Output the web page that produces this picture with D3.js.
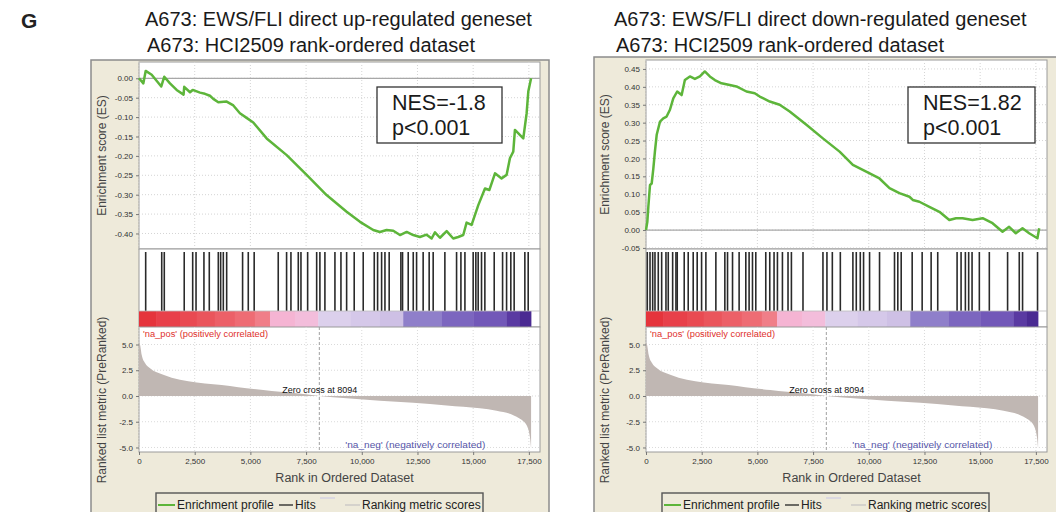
<!DOCTYPE html>
<html><head><meta charset="utf-8">
<script src="https://cdn.jsdelivr.net/npm/d3@7"></script>
<style>body{margin:0;background:#fff;} svg{display:block;font-family:'Liberation Sans',Arial,sans-serif;}</style>
</head><body><svg id="c" width="1056" height="512"></svg>
<script>
// ---------------- DATA ----------------
const panelLetter = "G";
const titlesUp = ["A673: EWS/FLI direct up-regulated geneset", "A673: HCI2509 rank-ordered dataset"];
const titlesDown = ["A673: EWS/FLI direct down-regulated geneset", "A673: HCI2509 rank-ordered dataset"];
const statsUp = ["NES=-1.8", "p<0.001"];
const statsDown = ["NES=1.82", "p<0.001"];
const xTicks = [0, 2500, 5000, 7500, 10000, 12500, 15000, 17500];
const esTicksUp = [0, -0.05, -0.10, -0.15, -0.20, -0.25, -0.30, -0.35, -0.40];
const esTicksDown = [-0.05, 0, 0.05, 0.10, 0.15, 0.20, 0.25, 0.30, 0.35, 0.40, 0.45];
const metricTicks = [5, 2.5, 0, -2.5, -5];
const zeroCross = 8094;

const upRank = [0,195,300,570,1000,1135,1390,1690,2000,2030,2290,2410,2740,2960,3185,3335,3560,3935,4235,4530,4830,5130,5730,6630,7525,8420,9320,9920,10515,10815,11115,11415,11715,12015,12310,12610,12910,13135,13285,13510,13810,14105,14330,14555,14705,14930,15230,15530,15725,15980,16275,16500,16650,16800,16875,17250,17400,17475,17600];
const upES = [0,-0.013,0.019,0.009,-0.021,0.004,-0.013,-0.030,-0.042,-0.022,-0.036,-0.030,-0.037,-0.040,-0.045,-0.053,-0.062,-0.060,-0.070,-0.090,-0.102,-0.114,-0.155,-0.198,-0.249,-0.301,-0.344,-0.370,-0.391,-0.396,-0.391,-0.393,-0.404,-0.396,-0.404,-0.409,-0.403,-0.413,-0.397,-0.411,-0.394,-0.413,-0.409,-0.404,-0.372,-0.378,-0.327,-0.284,-0.288,-0.245,-0.258,-0.249,-0.206,-0.189,-0.133,-0.155,-0.090,-0.034,0];
const upHits = [300,1020,1135,2030,2410,2560,2915,3155,3560,3665,3785,3935,4650,4905,5170,6250,6625,6820,7150,7270,7570,7975,8120,8345,8795,9065,9320,9660,10065,10560,10710,10890,11040,11230,11755,11830,12085,12310,12460,12755,13025,13205,13730,14255,14450,14630,15000,15120,15225,15375,15525,15945,16320,16500,16690,16840,17320,17470];

const downRank = [0,60,105,180,255,330,400,480,630,775,925,1075,1225,1400,1600,1745,1970,2195,2420,2640,2865,3090,3390,3760,4060,4510,4880,5105,5555,6000,6450,7200,7940,8690,9285,9885,10480,10930,11375,11825,11975,12270,12720,13170,13615,13915,14210,14660,15110,15555,16005,16300,16600,16900,17200,17570,17650];
const downES = [0,0.023,0.065,0.126,0.130,0.172,0.219,0.266,0.303,0.312,0.317,0.336,0.368,0.387,0.377,0.419,0.429,0.422,0.429,0.443,0.429,0.419,0.410,0.405,0.401,0.387,0.382,0.373,0.359,0.350,0.331,0.294,0.256,0.219,0.182,0.163,0.144,0.117,0.103,0.093,0.084,0.079,0.065,0.051,0.028,0.033,0.033,0.028,0.033,0.019,-0.005,0.009,-0.009,0.005,-0.009,-0.023,0.005];
const downHits = [58,180,300,403,551,703,896,999,1196,1344,1402,1716,1895,2119,2298,2495,2688,3136,3539,3660,3884,4180,4480,4628,4780,4928,5376,5555,5748,5900,6124,6375,6527,7047,7943,8122,8364,8723,9287,9439,9619,9766,10035,10483,11155,11303,11455,11948,12396,12799,13095,13964,14143,14336,14484,14636,14963,15411,16231,16755,16903,17575];

const metricRank = [0,45,120,270,495,1090,1840,2590,3335,4085,4830,5580,6330,7075,8094,9320,10815,12310,13810,15305,16050,16800,17100,17400,17550,17600];
const metricValue = [5.2,5.0,4.0,3.2,2.7,2.06,1.57,1.3,1.14,0.98,0.75,0.59,0.42,0.26,0,-0.23,-0.46,-0.65,-0.92,-1.2,-1.44,-1.86,-2.2,-2.84,-4.0,-5.1];

const binStart = [0,790,1840,2590,3400,4300,5200,5880,7000,8050,9500,10800,11860,13580,15000,16500,17100];
const binColor = ["#e5343c","#e8404a","#e94a52","#ea555c","#ec6068","#ee6c74","#f07e88","#f5b4d3","#f3bddb","#dcd0ec","#d5c8e9","#cec0e5","#8f7fca","#7c66bf","#7258b8","#5a3aa2","#4a2a92"];
const binEnd = 17600;

const legendLabels = ["Enrichment profile", "Hits", "Ranking metric scores"];
const axisTitles = {es: "Enrichment score (ES)", metric: "Ranked list metric (PreRanked)", x: "Rank in Ordered Dataset"};
const posLabel = "'na_pos' (positively correlated)";
const negLabel = "'na_neg' (negatively correlated)";

// ---------------- LAYOUT ----------------
const svg = d3.select('#c');
const W = 401;
const hitsTop = 249, barTop = 311, metTop = 327, metBot = 452;

svg.append('text').attr('x', 21).attr('y', 28).attr('font-size', 21).attr('font-weight', 'bold').attr('fill', '#222').text(panelLetter);

function drawPanel(p) {
  const g = svg.append('g');
  const x = d3.scaleLinear().domain([0, 18000]).range([p.x0, p.x0 + W]);
  // frame
  g.append('rect').attr('x', p.frameX).attr('y', p.frameTop).attr('width', p.frameW).attr('height', 530 - p.frameTop)
    .attr('fill', '#eeeada').attr('stroke', '#8c8c8c').attr('stroke-width', 1.5);
  // titles
  g.append('text').attr('x', p.titleX).attr('y', 26).attr('font-size', 20).attr('fill', '#1a1a1a').text(p.titles[0]);
  g.append('text').attr('x', p.titleX + 2).attr('y', 52).attr('font-size', 20).attr('fill', '#1a1a1a').text(p.titles[1]);

  // ---- ES plot ----
  const yES = d3.scaleLinear().domain(p.esDomain).range([hitsTop, p.esTop]);
  g.append('rect').attr('x', p.x0).attr('y', p.esTop).attr('width', W).attr('height', hitsTop - p.esTop)
    .attr('fill', '#fff').attr('stroke', '#9a9a9a');
  const grid = g.append('g').attr('stroke', '#d4d4d4').attr('stroke-dasharray', '1,2');
  xTicks.forEach(t => grid.append('line').attr('x1', x(t)).attr('x2', x(t)).attr('y1', p.esTop).attr('y2', hitsTop));
  p.esTicks.forEach(t => grid.append('line').attr('x1', p.x0).attr('x2', p.x0 + W).attr('y1', yES(t)).attr('y2', yES(t)));
  g.append('line').attr('x1', p.x0).attr('x2', p.x0 + W).attr('y1', yES(0)).attr('y2', yES(0)).attr('stroke', '#a8a8a8').attr('stroke-width', 1.2);
  const esAxis = g.append('g').attr('transform', `translate(${p.x0},0)`)
    .call(d3.axisLeft(yES).tickValues(p.esTicks).tickFormat(d => d.toFixed(2)).tickSize(3));
  esAxis.select('.domain').remove();
  esAxis.selectAll('line').attr('stroke', '#777');
  esAxis.selectAll('text').attr('font-size', 8).attr('fill', '#333').attr('font-family', 'Liberation Sans, Arial, sans-serif');
  const pts = p.rank.map((r, i) => [r, p.es[i]]);
  g.append('path').datum(pts).attr('fill', 'none').attr('stroke', '#5db53a').attr('stroke-width', 2.5)
    .attr('stroke-linejoin', 'round').attr('d', d3.line().x(d => x(d[0])).y(d => yES(d[1])));
  // NES box
  g.append('rect').attr('x', p.box[0]).attr('y', p.box[1]).attr('width', p.box[2]).attr('height', p.box[3])
    .attr('fill', '#fff').attr('stroke', '#333').attr('stroke-width', 1.3);
  g.append('text').attr('x', p.box[0] + 15).attr('y', p.box[1] + 23).attr('font-size', 21.5).attr('fill', '#1a1a1a').text(p.stats[0]);
  g.append('text').attr('x', p.box[0] + 15).attr('y', p.box[1] + 48).attr('font-size', 21.5).attr('fill', '#1a1a1a').text(p.stats[1]);

  // ---- hits + color bar ----
  g.append('rect').attr('x', p.x0).attr('y', hitsTop).attr('width', W).attr('height', metTop - hitsTop)
    .attr('fill', '#fff').attr('stroke', '#9a9a9a');
  g.selectAll(null).data(p.hits).enter().append('line')
    .attr('x1', d => x(d)).attr('x2', d => x(d)).attr('y1', hitsTop + 3).attr('y2', barTop)
    .attr('stroke', '#2a2a2a').attr('stroke-width', 1.6);
  g.selectAll(null).data(binStart).enter().append('rect')
    .attr('x', d => x(d)).attr('y', barTop)
    .attr('width', (d, i) => x(i < binStart.length - 1 ? binStart[i + 1] : binEnd) - x(d) + 0.3)
    .attr('height', metTop - barTop).attr('fill', (d, i) => binColor[i]);
  g.append('line').attr('x1', p.x0).attr('x2', p.x0 + W).attr('y1', barTop).attr('y2', barTop).attr('stroke', '#bbb').attr('stroke-width', 0.8);

  // ---- metric plot ----
  const yM = d3.scaleLinear().domain([-5.44, 6.7]).range([metBot, metTop]);
  g.append('rect').attr('x', p.x0).attr('y', metTop).attr('width', W).attr('height', metBot - metTop)
    .attr('fill', '#fff').attr('stroke', '#9a9a9a');
  const grid2 = g.append('g').attr('stroke', '#dadada').attr('stroke-dasharray', '1,2');
  xTicks.forEach(t => grid2.append('line').attr('x1', x(t)).attr('x2', x(t)).attr('y1', metTop).attr('y2', metBot));
  metricTicks.forEach(t => grid2.append('line').attr('x1', p.x0).attr('x2', p.x0 + W).attr('y1', yM(t)).attr('y2', yM(t)));
  const mpts = metricRank.map((r, i) => [r, metricValue[i]]);
  g.append('path').datum(mpts).attr('fill', '#c0b7b3')
    .attr('d', d3.area().curve(d3.curveMonotoneX).x(d => x(d[0])).y0(yM(0)).y1(d => yM(d[1])));
  g.append('line').attr('x1', x(zeroCross)).attr('x2', x(zeroCross)).attr('y1', metTop).attr('y2', metBot)
    .attr('stroke', '#a0a0a0').attr('stroke-dasharray', '3,2');
  g.append('text').attr('x', x(zeroCross) - 37).attr('y', yM(0) - 3).attr('font-size', 8.5)
    .attr('textLength', 75).attr('lengthAdjust', 'spacingAndGlyphs').attr('fill', '#111').text('Zero cross at ' + zeroCross);
  g.append('text').attr('x', p.x0 + 4).attr('y', metTop + 10).attr('font-size', 8.5)
    .attr('textLength', 125).attr('lengthAdjust', 'spacingAndGlyphs').attr('fill', '#e0302c').text(posLabel);
  g.append('text').attr('x', x(zeroCross) + 26).attr('y', metBot - 4).attr('font-size', 8.5)
    .attr('textLength', 140).attr('lengthAdjust', 'spacingAndGlyphs').attr('fill', '#5555a8').text(negLabel);
  const mAxis = g.append('g').attr('transform', `translate(${p.x0},0)`)
    .call(d3.axisLeft(yM).tickValues(metricTicks).tickFormat(d => d.toFixed(1)).tickSize(3));
  mAxis.select('.domain').remove();
  mAxis.selectAll('line').attr('stroke', '#777');
  mAxis.selectAll('text').attr('font-size', 8).attr('fill', '#333').attr('font-family', 'Liberation Sans, Arial, sans-serif');
  const xAxis = g.append('g').attr('transform', `translate(0,${metBot})`)
    .call(d3.axisBottom(x).tickValues(xTicks).tickFormat(d3.format(',')).tickSize(3));
  xAxis.select('.domain').remove();
  xAxis.selectAll('line').attr('stroke', '#777');
  xAxis.selectAll('text').attr('font-size', 8).attr('fill', '#333').attr('font-family', 'Liberation Sans, Arial, sans-serif');

  // axis titles
  g.append('text').attr('transform', `translate(${p.frameX + 15},${(p.esTop + hitsTop) / 2}) rotate(-90)`)
    .attr('text-anchor', 'middle').attr('font-size', 12).attr('fill', '#444').text(axisTitles.es);
  g.append('text').attr('transform', `translate(${p.frameX + 15},400) rotate(-90)`)
    .attr('text-anchor', 'middle').attr('font-size', 12).attr('fill', '#444').text(axisTitles.metric);
  g.append('text').attr('x', p.x0 + W / 2 + 5).attr('y', 482).attr('text-anchor', 'middle').attr('font-size', 12.5).attr('fill', '#444').text(axisTitles.x);

  // legend
  const lx = p.legendX, ly = 493;
  g.append('rect').attr('x', lx).attr('y', ly).attr('width', 327).attr('height', 30).attr('fill', '#eeeada').attr('stroke', '#555').attr('stroke-width', 1.4);
  g.append('line').attr('x1', lx + 2).attr('x2', lx + 19).attr('y1', 505).attr('y2', 505).attr('stroke', '#5db53a').attr('stroke-width', 2);
  g.append('text').attr('x', lx + 21).attr('y', 509).attr('font-size', 12).attr('fill', '#222').text(legendLabels[0]);
  g.append('line').attr('x1', lx + 123).attr('x2', lx + 137).attr('y1', 505).attr('y2', 505).attr('stroke', '#222').attr('stroke-width', 1.3);
  g.append('text').attr('x', lx + 139).attr('y', 509).attr('font-size', 12).attr('fill', '#222').text(legendLabels[1]);
  g.append('line').attr('x1', lx + 164).attr('x2', lx + 179).attr('y1', 498).attr('y2', 498).attr('stroke', '#d4d2e2').attr('stroke-width', 1.5);
  g.append('line').attr('x1', lx + 189).attr('x2', lx + 204).attr('y1', 505).attr('y2', 505).attr('stroke', '#c8c4c4').attr('stroke-width', 1.3);
  g.append('text').attr('x', lx + 206).attr('y', 509).attr('font-size', 12).attr('fill', '#222').text(legendLabels[2]);
}

drawPanel({x0: 139, frameX: 91, frameTop: 60, frameW: 458, esTop: 62, esDomain: [-0.44, 0.042], esTicks: esTicksUp,
  rank: upRank, es: upES, hits: upHits, titles: titlesUp, titleX: 145, stats: statsUp, box: [377, 87, 125, 56], legendX: 156});
drawPanel({x0: 646, frameX: 594, frameTop: 57, frameW: 470, esTop: 60, esDomain: [-0.053, 0.475], esTicks: esTicksDown,
  rank: downRank, es: downES, hits: downHits, titles: titlesDown, titleX: 614, stats: statsDown, box: [908, 87, 127, 56], legendX: 662});
</script></body></html>
